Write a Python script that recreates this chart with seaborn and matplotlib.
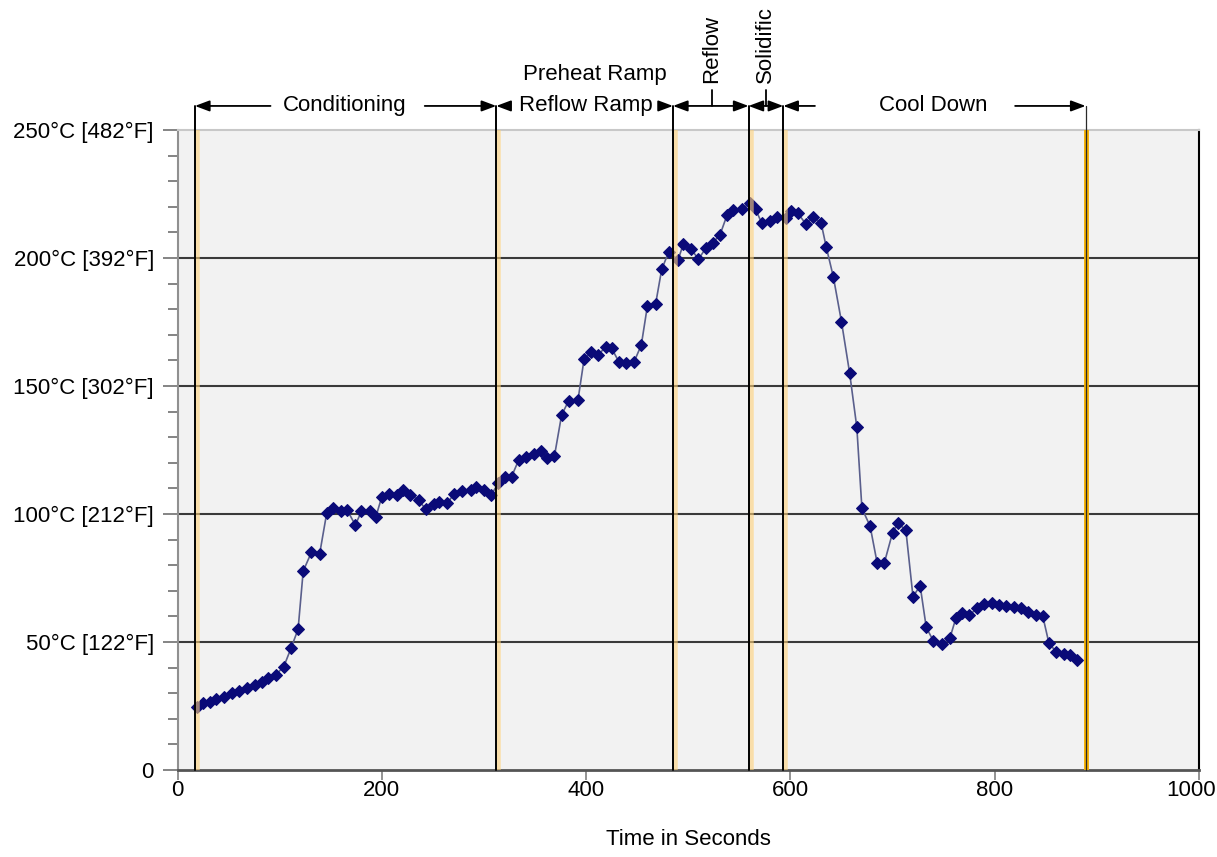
import matplotlib
matplotlib.use("Agg")
import matplotlib.pyplot as plt
import matplotlib.transforms as mtrans
import seaborn as sb

# Perfil de temperatura: tempo (s) e temperatura (°C)
tempo = [19, 25, 32, 38, 45, 53, 60, 68, 76, 83, 89, 96, 104, 111, 118, 123,
         131, 139, 146, 152, 160, 166, 174, 180, 188, 194, 200, 207, 215, 221,
         228, 236, 243, 251, 256, 264, 271, 278, 287, 292, 300, 307, 314, 321,
         327, 334, 341, 349, 356, 362, 369, 376, 383, 392, 398, 405, 412, 419,
         425, 432, 439, 447, 454, 460, 468, 474, 481, 490, 495, 503, 510, 517,
         524, 531, 538, 544, 553, 560, 566, 572, 580, 587, 596, 601, 607, 615,
         622, 630, 635, 642, 650, 658, 665, 670, 678, 685, 692, 700, 705, 713,
         720, 727, 733, 740, 748, 756, 762, 768, 775, 783, 790, 797, 804, 811,
         819, 826, 833, 840, 847, 853, 860, 868, 874, 881]
temperatura = [24.7, 26, 26.7, 27.6, 28.6, 30.2, 31, 31.9, 33.2, 34.5, 35.8,
               37.1, 40.4, 47.5, 55, 77.7, 85, 84.2, 100.3, 102.3, 101.2, 101.6,
               95.7, 101, 101, 98.7, 106.8, 107.8, 107.4, 109.4, 107.4, 105.5,
               101.8, 103.9, 104.8, 104.2, 108, 109, 109.4, 110.4, 109.4, 107.4,
               112, 114.6, 114.6, 121.1, 122.4, 123.3, 124.7, 121.7, 122.7,
               138.7, 144.3, 144.5, 160.5, 163.1, 162.1, 165.4, 164.7, 159.5,
               158.9, 159.5, 166, 181.3, 182, 195.6, 202.5, 199.2, 205.3, 203.4,
               199.5, 203.8, 206, 209, 216.8, 218.8, 219, 221.6, 219, 213.5,
               214.6, 215.9, 215.5, 218.5, 217.7, 213.3, 216.1, 213.8, 204.4,
               192.7, 175.1, 155, 133.9, 102.2, 95.3, 80.7, 81, 92.7, 96.4, 93.8,
               67.7, 72, 55.7, 50.4, 49.1, 51.4, 59.3, 61.4, 60.5, 63.2, 64.8,
               65.1, 64.5, 64.2, 63.8, 63.2, 61.8, 60.5, 60.2, 49.7, 46.2, 45.3,
               44.9, 43]

# Limites das fases (s)
limites = [17, 312, 485, 559, 593, 889]

y_ticks = [0, 50, 100, 150, 200, 250]
y_labels = ["0", "50°C [122°F]", "100°C [212°F]", "150°C [302°F]",
            "200°C [392°F]", "250°C [482°F]"]
x_ticks = [0, 200, 400, 600, 800, 1000]

sb.set_style("white")
plt.rcParams["font.family"] = ["Liberation Sans", "DejaVu Sans"]
plt.rcParams["text.color"] = "black"

fig = plt.figure(figsize=(12.17, 8.57), dpi=100)
ax = fig.add_axes([0.1459, 0.1015, 0.8393, 0.7468])
ax.set_facecolor("#f2f2f2")

# linhas de grade
for g in [50, 100, 150, 200]:
    ax.axhline(g, color="#3a3a3a", lw=1.5, zorder=1)

sb.lineplot(x=tempo, y=temperatura, ax=ax, sort=False,
            color="#5a5f8c", linewidth=1.2, marker="D", markersize=6,
            markerfacecolor="#0a0a78", markeredgecolor="#0a0a78", zorder=3)

# linhas verticais das fases
nivel = 259.4
for i, x in enumerate(limites):
    if i == len(limites) - 1:
        ax.plot([x, x], [0, 250], color="#f5b000", lw=3.5, zorder=4)
        ax.plot([x, x], [0, nivel], color="#2a2a2a", lw=0.9, zorder=5,
                clip_on=False)
    else:
        ax.plot([x + 2, x + 2], [0, 250], color="#ffd27a", lw=4, alpha=0.6,
                zorder=4)
        ax.plot([x, x], [0, nivel], color="black", lw=1.4, zorder=5,
                clip_on=False)

ax.set_xlim(0, 1000)
ax.set_ylim(0, 250)
ax.set_xticks(x_ticks)
ax.set_xticklabels([str(v) for v in x_ticks], size=16)
ax.set_yticks(y_ticks)
ax.set_yticklabels(y_labels, size=16)
ax.set_yticks(range(0, 251, 10), minor=True)
ax.tick_params(axis="y", which="major", direction="out", length=11, width=1.2,
               color="#707070", labelcolor="black", left=True, pad=6)
ax.tick_params(axis="y", which="minor", direction="out", length=7, width=1.2,
               color="#707070", left=True)
ax.tick_params(axis="x", which="major", direction="out", length=7, width=1.2,
               color="#808080", labelcolor="black", bottom=True, pad=0)
ax.set_xlabel("Time in Seconds", size=16, labelpad=20, color="black")

# "1000" um pouco para a esquerda para caber na figura
ultimo = ax.get_xticklabels()[-1]
ultimo.set_transform(ultimo.get_transform()
                     + mtrans.ScaledTranslation(-0.08, 0, fig.dpi_scale_trans))

ax.spines["left"].set_color("#909090")
ax.spines["left"].set_linewidth(1.5)
ax.spines["bottom"].set_color("#555555")
ax.spines["bottom"].set_linewidth(2)
ax.spines["right"].set_color("black")
ax.spines["right"].set_linewidth(1.5)
ax.spines["top"].set_color("#c8c8c8")
ax.spines["top"].set_linewidth(1.5)

# setas e rótulos das fases
seta = dict(arrowstyle="-|>,head_length=0.8,head_width=0.3", color="black",
            lw=1.3, shrinkA=0, shrinkB=0, mutation_scale=11)
dupla = dict(arrowstyle="<|-|>,head_length=0.8,head_width=0.3", color="black",
             lw=1.3, shrinkA=0, shrinkB=0, mutation_scale=11)


def seta_simples(x0, x1):
    ax.annotate("", xy=(x1, nivel), xytext=(x0, nivel), arrowprops=seta,
                annotation_clip=False)


seta_simples(91, 17)
seta_simples(242, 312)
ax.text(164, nivel, "Conditioning", ha="center", va="center", size=16)

seta_simples(325, 312)
seta_simples(474, 485)
ax.text(400, nivel, "Reflow Ramp", ha="center", va="center", size=16)
ax.text(409, 271.5, "Preheat Ramp", ha="center", va="center", size=16)

ax.annotate("", xy=(559, nivel), xytext=(485, nivel), arrowprops=dupla,
            annotation_clip=False)
ax.plot([523, 523], [nivel, 265.8], color="black", lw=1.3, clip_on=False)
ax.text(523, 268.5, "Reflow", rotation=90, ha="center", va="bottom", size=16)

ax.annotate("", xy=(593, nivel), xytext=(559, nivel), arrowprops=dupla,
            annotation_clip=False)
ax.plot([576, 576], [nivel, 265.8], color="black", lw=1.3, clip_on=False)
ax.text(576, 268.5, "Solidific", rotation=90, ha="center", va="bottom", size=16)

seta_simples(624, 593)
seta_simples(820, 889)
ax.text(740, nivel, "Cool Down", ha="center", va="center", size=16)

fig.savefig("out.png", dpi=100)
